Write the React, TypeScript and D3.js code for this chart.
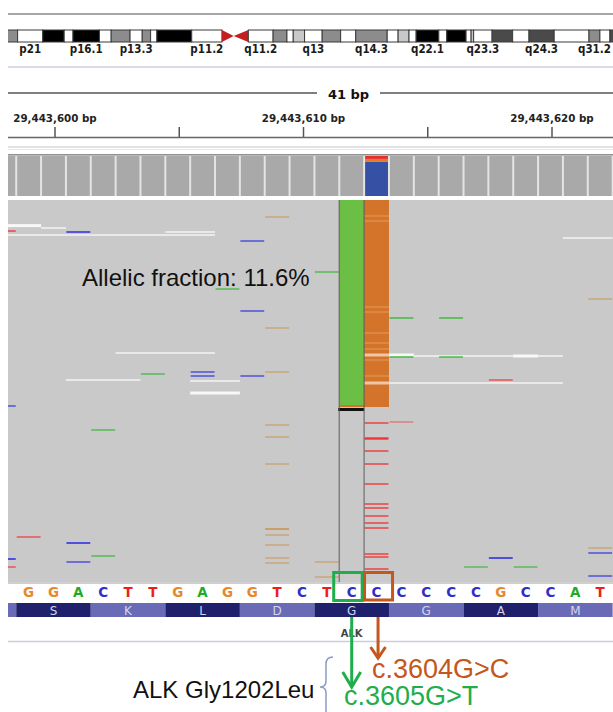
import * as d3 from 'd3';

const POS0 = 29443600;

// chr2 cytobands (hg19, Mb) visible in the ideogram strip
const bandName = ['p22.1', 'p21', 'p16.3', 'p16.2', 'p16.1', 'p15', 'p14', 'p13.3', 'p13.2', 'p13.1', 'p12', 'p11.2', 'p11.1', 'q11.1', 'q11.2', 'q12.1', 'q12.2', 'q12.3', 'q13', 'q14.1', 'q14.2', 'q14.3', 'q21.1', 'q21.2', 'q21.3', 'q22.1', 'q22.2', 'q22.3', 'q23.1', 'q23.2', 'q23.3', 'q24.1', 'q24.2', 'q24.3', 'q31.1', 'q31.2', 'q31.3', 'q32.1'];
const bandStart = [38.6, 41.8, 47.8, 52.9, 55.0, 61.3, 64.1, 68.6, 71.5, 73.5, 75.0, 83.3, 90.5, 93.3, 96.8, 102.7, 106.0, 107.5, 110.2, 114.4, 118.8, 122.4, 129.9, 132.5, 135.1, 136.8, 142.2, 144.1, 148.7, 149.9, 150.5, 154.9, 159.8, 163.7, 169.7, 178.0, 180.6, 183.0];
const bandEnd = [41.8, 47.8, 52.9, 55.0, 61.3, 64.1, 68.6, 71.5, 73.5, 75.0, 83.3, 90.5, 93.3, 96.8, 102.7, 106.0, 107.5, 110.2, 114.4, 118.8, 122.4, 129.9, 132.5, 135.1, 136.8, 142.2, 144.1, 148.7, 149.9, 150.5, 154.9, 159.8, 163.7, 169.7, 178.0, 180.6, 183.0, 189.4];
const bandStain = ['gpos50', 'gneg', 'gpos100', 'gneg', 'gpos100', 'gneg', 'gpos50', 'gneg', 'gpos50', 'gneg', 'gpos100', 'gneg', 'acen', 'acen', 'gneg', 'gpos50', 'gneg', 'gpos25', 'gneg', 'gpos50', 'gneg', 'gpos50', 'gneg', 'gpos25', 'gneg', 'gpos100', 'gneg', 'gpos100', 'gneg', 'gpos25', 'gneg', 'gpos75', 'gneg', 'gpos75', 'gneg', 'gpos50', 'gneg', 'gpos75'];
const bandLabels = ['p21', 'p16.1', 'p13.3', 'p11.2', 'q11.2', 'q13', 'q14.3', 'q22.1', 'q23.3', 'q24.3', 'q31.2'];

// ruler
const majorTicks = [0, 10, 20];
const minorTicks = [5, 15];

// reference sequence starting at POS0 - 1
const refSeq = ['G', 'G', 'A', 'C', 'T', 'T', 'G', 'A', 'G', 'G', 'T', 'C', 'T', 'C', 'C', 'C', 'C', 'C', 'C', 'G', 'C', 'C', 'A', 'T'];
const aminoAcids = ['', 'S', 'K', 'L', 'D', 'G', 'G', 'A', 'M'];
const codonStart = -4; // first codon offset

// coverage per offset -2..22, all reach the top of the track
const covOffsets = [-2, -1, 0, 1, 2, 3, 4, 5, 6, 7, 8, 9, 10, 11, 12, 13, 14, 15, 16, 17, 18, 19, 20, 21, 22];
const coverage = [410, 410, 410, 410, 410, 410, 410, 410, 410, 410, 410, 410, 410, 410, 410, 410, 410, 410, 410, 410, 410, 410, 410, 410, 410];
// allele split at offset 13
const alleleBases = ['C', 'G', 'T'];
const alleleCounts = [350, 30, 30];

// variant read blocks: offset, last row
const variantOffsets = [12, 13];
const variantBases = ['A', 'G'];
const variantRowEnd = [102.5, 103.5];

// mismatches: [offset, row, base, quality]
const mismatches: [number, number, string, number][] = [
  [-2, 15.5, 'T', 25], [1, 16, 'C', 32], [9, 8.5, 'G', 15], [8, 20.5, 'C', 25],
  [7, 44.5, 'A', 22], [11, 36, 'A', 22], [8, 55.5, 'C', 25], [9, 64, 'G', 15],
  [4, 87, 'A', 22], [6, 86, 'C', 25], [6, 88, 'C', 25], [8, 88, 'C', 25], [9, 86, 'G', 15],
  [-2, 103, 'C', 25], [9, 112.5, 'G', 15], [2, 115, 'A', 22], [9, 118.5, 'G', 15],
  [9, 132, 'G', 15], [9, 164.5, 'G', 25], [-1, 168.5, 'T', 22], [9, 167.5, 'G', 15],
  [1, 171.5, 'C', 34], [9, 172.5, 'G', 15], [-2, 179.5, 'C', 34], [2, 178, 'A', 22],
  [9, 179, 'G', 15], [1, 181, 'C', 25], [9, 181.5, 'G', 15], [-2, 183.5, 'T', 22],
  [11, 181, 'G', 15], [11, 188.5, 'G', 15],
  [18, 179, 'C', 34], [17, 183.5, 'A', 20], [19, 183.5, 'A', 20], [22, 174, 'G', 15],
  [22, 176.5, 'C', 25], [22, 188, 'C', 25], [14, 111, 'T', 14], [14, 59, 'A', 25],
  [16, 59, 'A', 25], [14, 78.5, 'A', 25], [16, 78.5, 'A', 25], [18, 90, 'T', 22],
  [22, 49.5, 'G', 15], [23, 41.5, 'C', 22],
];
// T mismatches in the column below the variant block
const tRows = [111.5, 119, 119.5, 125.5, 132, 142, 152, 154, 158, 161.5, 164, 177, 178.5, 184.5];
// faint lighter rows inside the G column
const gStripeRows = [8, 10.5, 53.5, 56, 66.5, 71.5, 74.5, 80, 88];
// pale read segments: [startOffset, endOffset, row, strong]
const paleReads: [number, number, number, number][] = [
  [-2, -1, 12.8, 1], [0, 0, 14, 0], [-2, 6, 17.5, 0], [5, 6, 16, 0], [3, 6, 76.5, 0],
  [1, 3, 90, 0], [6, 7, 90.5, 0], [6, 7, 96.5, 1], [21, 22, 19, 0], [13, 14, 77.5, 1],
  [15, 20, 78, 0], [19, 19, 78, 1], [13, 20, 91.5, 0],
];

const SANS = 'DejaVu Sans, sans-serif';
const ARIAL = 'Liberation Sans, Arial, sans-serif';

export default function App() {
  const xi = d3.scaleLinear().domain([55, 163.7]).range([73, 529]);
  const x = d3.scaleLinear().domain([POS0 + 10, POS0 + 20]).range([302, 550.5]);
  const bw = x(POS0 + 1) - x(POS0);
  const cx = (o: number) => x(POS0 + o);
  const lx = (o: number) => x(POS0 + o) - bw / 2;
  const yr = d3.scaleLinear().domain([0, 190]).range([200, 580]);
  const cov = d3.scaleLinear().domain([0, d3.max(coverage)!]).range([196, 156]);
  const stainFill: Record<string, string> = { gneg: '#ffffff', gpos25: '#c8c8c8', gpos50: '#8c8c8c', gpos75: '#4a4a4a', gpos100: '#000000', acen: '#c41e1e' };
  const baseColor = d3.scaleOrdinal<string, string>().domain(['A', 'C', 'G', 'T']).range(['#00b000', '#1414e6', '#d17105', '#ff0000']);
  const seqColor = d3.scaleOrdinal<string, string>().domain(['A', 'C', 'G', 'T']).range(['#22ab22', '#2f2fc8', '#e5892c', '#ee1d1d']);
  const covColor = d3.scaleOrdinal<string, string>().domain(['C', 'G', 'T']).range(['#3650a3', '#e37a28', '#e8302a']);
  const variantFill = d3.scaleOrdinal<string, string>().domain(['A', 'G']).range(['#6cbf45', '#d4742a']);
  const qOpacity = d3.scaleLinear().domain([5, 40]).range([0.1, 0.8]);

  let acc = 0;
  const alleleStack = alleleBases.map((b, i) => {
    const y0 = acc;
    acc += alleleCounts[i];
    return { b, y0, y1: acc };
  });

  const green = '#1fae4b';
  const orange = '#c4571b';

  return (
    <svg width={613} height={712} style={{ position: 'absolute', left: 0, top: 0, background: '#fff' }}>
      <defs>
        <clipPath id="view"><rect x={8} y={0} width={605} height={712} /></clipPath>
      </defs>

      {/* ideogram */}
      <line x1={8} x2={613} y1={14} y2={14} stroke="#a6a6a6" strokeWidth={2} />
      <g clipPath="url(#view)">
        {bandName.map((n, i) => {
          const x0 = xi(bandStart[i]), x1 = xi(bandEnd[i]);
          if (bandStain[i] === 'acen') {
            const pts = n.startsWith('p')
              ? `${x0},30 ${x1},36 ${x0},42`
              : `${x0},36 ${x1},30 ${x1},42`;
            return <polygon key={n} points={pts} fill={stainFill.acen} />;
          }
          return <rect key={n} x={x0} y={30} width={x1 - x0} height={12} fill={stainFill[bandStain[i]]} stroke="#3a3a3a" strokeWidth={1} />;
        })}
        {bandLabels.map(l => {
          const i = bandName.indexOf(l);
          return (
            <text key={l} x={xi((bandStart[i] + bandEnd[i]) / 2)} y={52.5} textAnchor="middle" fontFamily="DejaVu Sans Condensed, DejaVu Sans" fontWeight="bold" fontSize={11.5} fill="#1a1a1a">{l}</text>
          );
        })}
      </g>
      <line x1={8} x2={613} y1={67} y2={67} stroke="#d9dce8" strokeWidth={2} />

      {/* ruler */}
      <line x1={8} x2={317} y1={93} y2={93} stroke="#555" strokeWidth={1.5} />
      <line x1={380} x2={613} y1={93} y2={93} stroke="#555" strokeWidth={1.5} />
      <text x={348.5} y={99} textAnchor="middle" fontFamily={SANS} fontWeight="bold" fontSize={13} fill="#111">41 bp</text>
      {majorTicks.map(t => (
        <g key={t}>
          <text x={cx(t) + 1.5} y={121.5} textAnchor="middle" fontFamily={SANS} fontWeight="bold" fontSize={10.3} fill="#222">{d3.format(',')(POS0 + t)} bp</text>
          <line x1={cx(t) + 1.5} x2={cx(t) + 1.5} y1={127} y2={137} stroke="#555" strokeWidth={1.5} />
        </g>
      ))}
      {minorTicks.map(t => (
        <line key={t} x1={cx(t) + 1.5} x2={cx(t) + 1.5} y1={127} y2={137} stroke="#555" strokeWidth={1.5} />
      ))}
      <line x1={8} x2={613} y1={137.5} y2={137.5} stroke="#666" strokeWidth={1.5} />
      <line x1={8} x2={613} y1={147} y2={147} stroke="#c6c6c6" strokeWidth={1} />
      <line x1={8} x2={613} y1={149.5} y2={149.5} stroke="#e8e8e8" strokeWidth={1} />

      <g clipPath="url(#view)">
        {/* coverage */}
        <rect x={8} y={155} width={605} height={41} fill="#e4e4e4" />
        <line x1={8} x2={613} y1={154.8} y2={154.8} stroke="#909090" strokeWidth={1.5} />
        {covOffsets.map((o, i) => o === 13 ? null : (
          <rect key={o} x={lx(o) + 1} y={cov(coverage[i])} width={bw - 2} height={cov(0) - cov(coverage[i])} fill="#a9a9a9" />
        ))}
        {alleleStack.map(s => (
          <rect key={s.b} x={lx(13) + 1} y={cov(s.y1)} width={bw - 2} height={cov(s.y0) - cov(s.y1)} fill={covColor(s.b)} />
        ))}

        {/* alignments */}
        <rect x={8} y={200} width={605} height={382} fill="#c9c9c9" />
        {paleReads.map(([a, b, r, s], i) => (
          <rect key={i} x={lx(a)} y={yr(r) - (s ? 1.5 : 1)} width={lx(b) + bw - lx(a)} height={s ? 3 : 2} fill={s ? '#f8f8f8' : '#e9e9e9'} />
        ))}
        {mismatches.map(([o, r, b, q], i) => (
          <rect key={i} x={lx(o) + 0.5} y={yr(r) - 1} width={bw - 1} height={2} fill={baseColor(b)} fillOpacity={qOpacity(q)} />
        ))}
        {variantOffsets.map((o, i) => (
          <rect key={o} x={lx(o)} y={yr(0)} width={bw} height={yr(variantRowEnd[i]) - yr(0)} fill={variantFill(variantBases[i])} />
        ))}
        {gStripeRows.map(r => (
          <rect key={r} x={lx(13)} y={yr(r) - 0.75} width={bw} height={1.5} fill="#f0b070" fillOpacity={0.45} />
        ))}
        {paleReads.filter(p => p[0] <= 13 && p[1] >= 13 && p[2] < 103.5).map((p, i) => (
          <rect key={i} x={lx(13)} y={yr(p[2]) - 1.5} width={bw} height={3} fill="#f4dcc8" fillOpacity={0.8} />
        ))}
        <rect x={lx(12)} y={yr(102.5)} width={bw} height={yr(103.5) - yr(102.5)} fill={variantFill('G')} />
        <rect x={lx(12) - 1} y={yr(104)} width={bw + 1} height={3} fill="#111" />
        {tRows.map((r, i) => (
          <rect key={i} x={lx(13) + 0.5} y={yr(r) - 1} width={bw - 1} height={2} fill={baseColor('T')} fillOpacity={0.5} />
        ))}
        {[lx(12), lx(12) + bw].map(v => (
          <line key={v} x1={v} x2={v} y1={200} y2={582} stroke="#505050" strokeOpacity={0.6} strokeWidth={1.5} />
        ))}
        <line x1={8} x2={613} y1={583} y2={583} stroke="#a0a0a0" strokeWidth={1} />

        {/* sequence */}
        {refSeq.map((b, i) => (
          <text key={i} x={cx(i - 1)} y={596.5} textAnchor="middle" fontFamily={SANS} fontWeight="bold" fontSize={13.5} fill={seqColor(b)}>{b}</text>
        ))}

        {/* amino acids */}
        {aminoAcids.map((a, i) => {
          const o = codonStart + i * 3;
          return (
            <g key={i}>
              <rect x={lx(o)} y={603} width={bw * 3} height={14} fill={i % 2 === 0 ? '#6a6bb6' : '#1f216c'} />
              <text x={cx(o + 1)} y={614.5} textAnchor="middle" fontFamily={SANS} fontSize={12} fill="#d4d4ee">{a}</text>
            </g>
          );
        })}
      </g>

      <text x={cx(12)} y={637} textAnchor="middle" fontFamily={SANS} fontWeight="bold" fontSize={10} fill="#444">ALK</text>
      <line x1={8} x2={613} y1={641.5} y2={641.5} stroke="#c9cee0" strokeWidth={1.5} />

      {/* annotation boxes */}
      <rect x={cx(12) - 18} y={572.5} width={28.5} height={28} fill="none" stroke={green} strokeWidth={3} />
      <rect x={cx(13) - 12} y={572.5} width={28} height={27.5} fill="none" stroke={orange} strokeWidth={3} />

      <text x={82} y={286} fontFamily={ARIAL} fontSize={24} fill="#111">Allelic fraction: 11.6%</text>

      {/* arrows */}
      <line x1={cx(12)} x2={cx(12)} y1={617} y2={686} stroke={green} strokeWidth={3} />
      <polyline points={`${cx(12) - 9},672 ${cx(12)},687 ${cx(12) + 9},672`} fill="none" stroke={green} strokeWidth={3} />
      <line x1={cx(13) + 1.5} x2={cx(13) + 1.5} y1={617} y2={657} stroke={orange} strokeWidth={3} />
      <polyline points={`${cx(13) - 6},647 ${cx(13) + 1.5},658 ${cx(13) + 9},647`} fill="none" stroke={orange} strokeWidth={3} />

      <path d="M 333 657 Q 326 657 326 664 L 326 681 Q 326 687 320 687 Q 326 687 326 693 L 326 712" fill="none" stroke="#8a9bc6" strokeWidth={1.5} />
      <text x={133} y={698} fontFamily={ARIAL} fontSize={24} fill="#111">ALK Gly1202Leu</text>
      <text x={372} y={678} fontFamily={ARIAL} fontSize={27} fill={orange}>c.3604G&gt;C</text>
      <text x={344} y={705} fontFamily={ARIAL} fontSize={27} fill={green}>c.3605G&gt;T</text>
    </svg>
  );
}
